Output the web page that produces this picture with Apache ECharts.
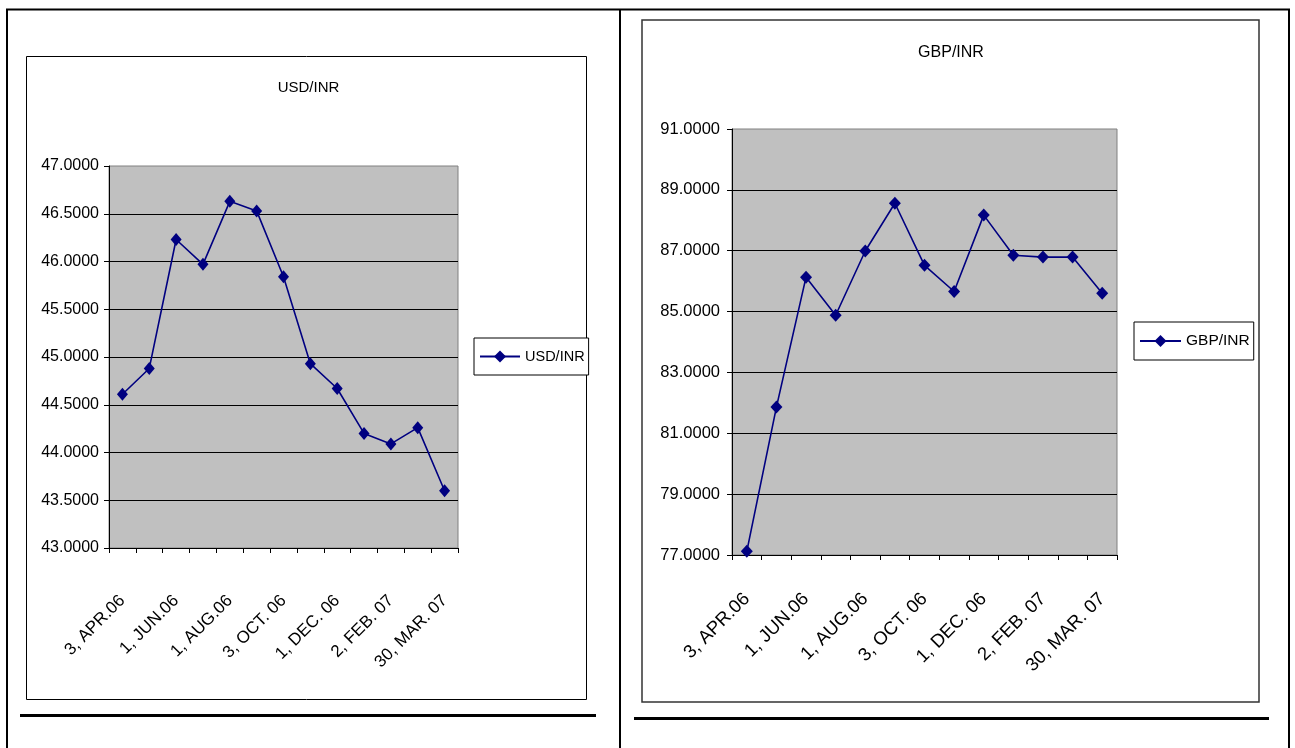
<!DOCTYPE html>
<html>
<head>
<meta charset="utf-8">
<script src="https://cdn.jsdelivr.net/npm/echarts@6/dist/echarts.min.js"></script>
<style>
html,body{margin:0;padding:0;background:#fff;}
#c{width:1295px;height:748px;}
</style>
</head>
<body>
<div id="c"></div>
<script>
const categories = ["3, APR.06","2, MAY.06","1, JUN.06","3, JUL.06","1, AUG.06","1, SEP.06","3, OCT. 06","1, NOV. 06","1, DEC. 06","2, JAN. 07","2, FEB. 07","1, MAR. 07","30, MAR. 07"];
const usdInr = [44.61, 44.88, 46.23, 45.97, 46.63, 46.53, 45.84, 44.93, 44.67, 44.20, 44.09, 44.26, 43.60];
const gbpInr = [77.12, 81.86, 86.13, 84.88, 86.99, 88.56, 86.52, 85.66, 88.17, 86.85, 86.79, 86.79, 85.60];
const usdTicks = [43.0, 43.5, 44.0, 44.5, 45.0, 45.5, 46.0, 46.5, 47.0];
const gbpTicks = [77.0, 79.0, 81.0, 83.0, 85.0, 87.0, 89.0, 91.0];
const usdName = "USD/INR";
const gbpName = "GBP/INR";

const FONT = "'Liberation Sans',Arial,sans-serif";
const NAVY = "#000080";

function yAxis(gridIndex, ticks, fs, margin){
  return {
    type: 'value', gridIndex: gridIndex,
    min: ticks[0], max: ticks[ticks.length-1], interval: ticks[1]-ticks[0],
    axisLine: {show: true, lineStyle: {color: '#000', width: 1}},
    axisTick: {show: true, length: 5, lineStyle: {color: '#000'}},
    axisLabel: {formatter: v => v.toFixed(4), color: '#000', fontFamily: FONT, fontSize: fs, margin: margin},
    splitLine: {show: true, showMaxLine: false, lineStyle: {color: '#000', width: 1}}
  };
}
function xAxis(gridIndex, fs, margin){
  return {
    type: 'category', gridIndex: gridIndex, data: categories, boundaryGap: true,
    axisLine: {show: true, lineStyle: {color: '#000', width: 1}},
    axisTick: {show: true, interval: 0, length: 5, alignWithLabel: false, lineStyle: {color: '#000'}},
    axisLabel: {interval: 1, rotate: 45, color: '#000', fontFamily: FONT, fontSize: fs, margin: margin,
                align: 'right', verticalAlign: 'middle'},
    splitLine: {show: false}
  };
}
function legend(name, left, top, fs, iw){
  return {
    data: [name], left: left, top: top, orient: 'horizontal',
    borderColor: '#000', borderWidth: 1, backgroundColor: '#fff',
    padding: [11, 4, 11, 5], itemWidth: iw, itemHeight: 15, itemGap: 0,
    textStyle: {color: '#000', fontFamily: FONT, fontSize: fs},
    selectedMode: false
  };
}

const chart = echarts.init(document.getElementById('c'), null, {renderer: 'canvas'});
chart.setOption({
  animation: false,
  backgroundColor: '#fff',
  grid: [
    {left: 109, top: 166, width: 349, height: 382, show: true, backgroundColor: '#c0c0c0', borderColor: '#808080', borderWidth: 1, containLabel: false},
    {left: 732, top: 129, width: 385, height: 426, show: true, backgroundColor: '#c0c0c0', borderColor: '#808080', borderWidth: 1, containLabel: false}
  ],
  xAxis: [xAxis(0, 17, 50), xAxis(1, 18.5, 41)],
  yAxis: [yAxis(0, usdTicks, 16, 10), yAxis(1, gbpTicks, 16.5, 12)],
  legend: [legend(usdName, 474, 338, 14.5, 40), legend(gbpName, 1134, 322, 15.5, 41)],
  series: [
    {name: usdName, type: 'line', xAxisIndex: 0, yAxisIndex: 0, data: usdInr,
     symbol: 'diamond', symbolSize: [11, 13], showAllSymbol: true,
     lineStyle: {color: NAVY, width: 1.6}, itemStyle: {color: NAVY}, emphasis: {disabled: true}},
    {name: gbpName, type: 'line', xAxisIndex: 1, yAxisIndex: 1, data: gbpInr,
     symbol: 'diamond', symbolSize: [12, 13], showAllSymbol: true,
     lineStyle: {color: NAVY, width: 1.6}, itemStyle: {color: NAVY}, emphasis: {disabled: true}}
  ],
  graphic: [
    {type: 'line', silent: true, shape: {x1: 6, y1: 9.5, x2: 1290, y2: 9.5}, style: {stroke: '#000', lineWidth: 2}},
    {type: 'line', silent: true, shape: {x1: 7, y1: 9, x2: 7, y2: 748}, style: {stroke: '#000', lineWidth: 2}},
    {type: 'line', silent: true, shape: {x1: 1289, y1: 9, x2: 1289, y2: 748}, style: {stroke: '#000', lineWidth: 2}},
    {type: 'line', silent: true, shape: {x1: 620, y1: 9, x2: 620, y2: 748}, style: {stroke: '#000', lineWidth: 2}},
    {type: 'rect', silent: true, shape: {x: 26.5, y: 56.5, width: 560, height: 643}, style: {fill: null, stroke: '#000', lineWidth: 1}},
    {type: 'rect', silent: true, shape: {x: 642, y: 20, width: 617, height: 682}, style: {fill: null, stroke: '#333', lineWidth: 1.5}},
    {type: 'line', silent: true, shape: {x1: 20, y1: 715.5, x2: 596, y2: 715.5}, style: {stroke: '#000', lineWidth: 3}},
    {type: 'line', silent: true, shape: {x1: 634, y1: 718.5, x2: 1269, y2: 718.5}, style: {stroke: '#000', lineWidth: 3}},
    {type: 'text', silent: true, x: 308.5, y: 88, style: {text: usdName, fill: '#000', font: '15px ' + FONT, textAlign: 'center', textVerticalAlign: 'middle'}},
    {type: 'text', silent: true, x: 951, y: 52.5, style: {text: gbpName, fill: '#000', font: '16px ' + FONT, textAlign: 'center', textVerticalAlign: 'middle'}}
  ]
});
</script>
</body>
</html>
